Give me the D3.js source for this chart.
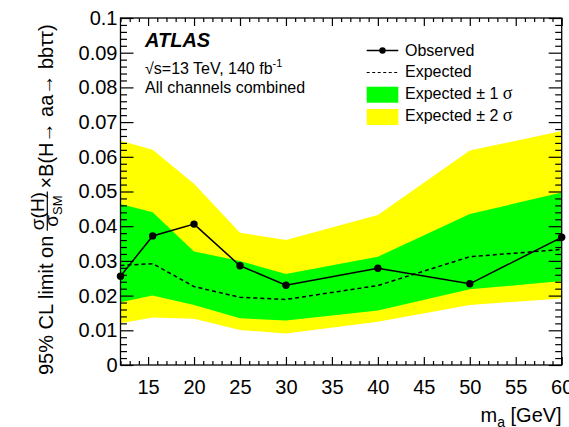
<!DOCTYPE html>
<html>
<head>
<meta charset="utf-8">
<script src="https://cdn.jsdelivr.net/npm/d3@7"></script>
<style>
  html, body { margin: 0; padding: 0; background: #fff; }
  svg { display: block; }
  text { font-family: "Liberation Sans", Arial, Helvetica, sans-serif; fill: #000; }
</style>
</head>
<body>
<script>
// Signal mass points m_a [GeV]
const massPoints = [12, 15.5, 20, 25, 30, 40, 50, 60];
// 95% CL upper limits on sigma(H)/sigma_SM x B(H -> aa -> bb tau tau)
const observed = [0.0256, 0.0372, 0.0406, 0.0286, 0.0230, 0.0279, 0.0234, 0.0368];
const expected = [0.0287, 0.0292, 0.0226, 0.0195, 0.0189, 0.0229, 0.0312, 0.0333];
const band1Lo  = [0.0181, 0.0200, 0.0173, 0.0135, 0.0128, 0.0157, 0.0218, 0.0242];
const band1Hi  = [0.0464, 0.0440, 0.0327, 0.0300, 0.0262, 0.0312, 0.0435, 0.0497];
const band2Lo  = [0.0120, 0.0137, 0.0133, 0.0101, 0.0091, 0.0125, 0.0173, 0.0192];
const band2Hi  = [0.0646, 0.0620, 0.0522, 0.0381, 0.0360, 0.0432, 0.0618, 0.0674];

// Axis ticks
const xTicks = [15, 20, 25, 30, 35, 40, 45, 50, 55, 60];
const yTicks = [0, 0.01, 0.02, 0.03, 0.04, 0.05, 0.06, 0.07, 0.08, 0.09, 0.1];
const yTickLabels = ["0", "0.01", "0.02", "0.03", "0.04", "0.05", "0.06", "0.07", "0.08", "0.09", "0.1"];

const W = 569, H = 427;
const frame = { left: 120.5, right: 561.7, top: 18, bottom: 365 };

const svg = d3.select("body").append("svg").attr("width", W).attr("height", H);

const x = d3.scaleLinear().domain([12, 60]).range([frame.left, frame.right]);
const y = d3.scaleLinear().domain([0, 0.1]).range([frame.bottom, frame.top]);

const pts = massPoints.map((m, i) => ({
  m, obs: observed[i], exp: expected[i],
  lo1: band1Lo[i], hi1: band1Hi[i], lo2: band2Lo[i], hi2: band2Hi[i]
}));

const plot = svg.append("g");

// +-2 sigma band
plot.append("path")
  .datum(pts)
  .attr("fill", "#ffff00")
  .attr("d", d3.area().x(d => x(d.m)).y0(d => y(d.lo2)).y1(d => y(d.hi2)));

// +-1 sigma band
plot.append("path")
  .datum(pts)
  .attr("fill", "#00ff00")
  .attr("d", d3.area().x(d => x(d.m)).y0(d => y(d.lo1)).y1(d => y(d.hi1)));

// Expected limit
plot.append("path")
  .datum(pts)
  .attr("fill", "none")
  .attr("stroke", "#000")
  .attr("stroke-width", 1.5)
  .attr("stroke-dasharray", "4,3")
  .attr("d", d3.line().x(d => x(d.m)).y(d => y(d.exp)));

// Observed limit
plot.append("path")
  .datum(pts)
  .attr("fill", "none")
  .attr("stroke", "#000")
  .attr("stroke-width", 1.5)
  .attr("d", d3.line().x(d => x(d.m)).y(d => y(d.obs)));

plot.selectAll("circle.obs")
  .data(pts)
  .join("circle")
  .attr("class", "obs")
  .attr("cx", d => x(d.m))
  .attr("cy", d => y(d.obs))
  .attr("r", 3.7)
  .attr("fill", "#000");

// Axes with inward-pointing ticks on all four sides
const xMinor = d3.range(12, 61, 1).filter(v => v % 5 !== 0);
const yMinor = d3.range(0, 0.1001, 0.002).filter((v, i) => i % 5 !== 0);

function styleAxis(g) {
  g.select(".domain").remove();
  g.selectAll(".tick line").attr("stroke", "#000").attr("stroke-width", 1.2);
  g.selectAll(".tick text").style("font-family", '"Liberation Sans", Arial, sans-serif').attr("fill", "#000");
}

// bottom
svg.append("g").attr("transform", `translate(0,${frame.bottom})`)
  .call(d3.axisBottom(x).tickValues(xTicks).tickFormat(d3.format("d")).tickSizeInner(-8).tickSizeOuter(0).tickPadding(15))
  .call(styleAxis)
  .call(g => g.selectAll(".tick text").attr("font-size", 20).attr("dy", "0.71em"));
svg.append("g").attr("transform", `translate(0,${frame.bottom})`)
  .call(d3.axisBottom(x).tickValues(xMinor).tickFormat("").tickSizeInner(-4).tickSizeOuter(0))
  .call(styleAxis);
// top
svg.append("g").attr("transform", `translate(0,${frame.top})`)
  .call(d3.axisTop(x).tickValues(xTicks).tickFormat("").tickSizeInner(-8).tickSizeOuter(0))
  .call(styleAxis);
svg.append("g").attr("transform", `translate(0,${frame.top})`)
  .call(d3.axisTop(x).tickValues(xMinor).tickFormat("").tickSizeInner(-4).tickSizeOuter(0))
  .call(styleAxis);
// left
svg.append("g").attr("transform", `translate(${frame.left},0)`)
  .call(d3.axisLeft(y).tickValues(yTicks).tickFormat((d, i) => yTickLabels[i]).tickSizeInner(-13).tickSizeOuter(0).tickPadding(3))
  .call(styleAxis)
  .call(g => g.selectAll(".tick text").attr("font-size", 20));
svg.append("g").attr("transform", `translate(${frame.left},0)`)
  .call(d3.axisLeft(y).tickValues(yMinor).tickFormat("").tickSizeInner(-6.5).tickSizeOuter(0))
  .call(styleAxis);
// right
svg.append("g").attr("transform", `translate(${frame.right},0)`)
  .call(d3.axisRight(y).tickValues(yTicks).tickFormat("").tickSizeInner(-13).tickSizeOuter(0))
  .call(styleAxis);
svg.append("g").attr("transform", `translate(${frame.right},0)`)
  .call(d3.axisRight(y).tickValues(yMinor).tickFormat("").tickSizeInner(-6.5).tickSizeOuter(0))
  .call(styleAxis);

// frame
svg.append("rect")
  .attr("x", frame.left).attr("y", frame.top)
  .attr("width", frame.right - frame.left).attr("height", frame.bottom - frame.top)
  .attr("fill", "none").attr("stroke", "#000").attr("stroke-width", 1.3);

// x-axis title
const xt = svg.append("text")
  .attr("x", frame.right).attr("y", 421.5)
  .attr("text-anchor", "end").attr("font-size", 20);
xt.append("tspan").text("m");
xt.append("tspan").attr("font-size", 14).attr("dy", 5).text("a");
xt.append("tspan").attr("dy", -5).text(" [GeV]");

// y-axis title, rotated, with a stacked fraction
const yt = svg.append("g").attr("transform", "translate(53.3,375) rotate(-90)");
const t1 = yt.append("text").attr("x", 0).attr("y", 0).attr("font-size", 20).text("95% CL limit on");
const L1 = t1.node().getComputedTextLength();
const fracStart = L1 + 5;
const num = yt.append("text").attr("y", -9).attr("font-size", 19).attr("text-anchor", "middle");
num.append("tspan").text("σ(H)");
const den = yt.append("text").attr("y", 5).attr("font-size", 19).attr("text-anchor", "middle");
den.append("tspan").text("σ");
den.append("tspan").attr("font-size", 13).attr("dy", 4).text("SM");
const fracW = Math.max(num.node().getComputedTextLength(), den.node().getComputedTextLength()) + 1;
const fracMid = fracStart + fracW / 2;
num.attr("x", fracMid);
den.attr("x", fracMid);
yt.append("line")
  .attr("x1", fracStart).attr("x2", fracStart + fracW)
  .attr("y1", -6).attr("y2", -6)
  .attr("stroke", "#000").attr("stroke-width", 1.2);
yt.append("text").attr("x", fracStart + fracW + 3).attr("y", 0).attr("font-size", 20)
  .text("×B(H→ aa→ bbττ)");

// ATLAS label block
svg.append("text").attr("x", 145).attr("y", 46.5)
  .attr("font-size", 20).attr("font-weight", "bold").attr("font-style", "italic").text("ATLAS");
const en = svg.append("text").attr("x", 145).attr("y", 73.5).attr("font-size", 16);
en.append("tspan").text("√s=13 TeV, 140 fb");
en.append("tspan").attr("font-size", 11).attr("dy", -7).text("-1");
svg.append("text").attr("x", 145).attr("y", 93).attr("font-size", 16).text("All channels combined");

// Legend
const legend = svg.append("g");
const lx0 = 366.7, lx1 = 398.3, tx = 405;
// Observed
legend.append("line").attr("x1", lx0).attr("x2", lx1).attr("y1", 50.5).attr("y2", 50.5)
  .attr("stroke", "#000").attr("stroke-width", 1.5);
legend.append("circle").attr("cx", (lx0 + lx1) / 2).attr("cy", 50.5).attr("r", 3.2).attr("fill", "#000");
legend.append("text").attr("x", tx).attr("y", 55.5).attr("font-size", 16).text("Observed");
// Expected
legend.append("line").attr("x1", lx0).attr("x2", lx1).attr("y1", 72.5).attr("y2", 72.5)
  .attr("stroke", "#000").attr("stroke-width", 1.2).attr("stroke-dasharray", "3,2.5");
legend.append("text").attr("x", tx).attr("y", 77).attr("font-size", 16).text("Expected");
// +-1 sigma
legend.append("rect").attr("x", lx0).attr("y", 86.7).attr("width", lx1 - lx0).attr("height", 16)
  .attr("fill", "#00ff00");
const s1 = legend.append("text").attr("x", tx).attr("y", 99).attr("font-size", 16);
s1.append("tspan").text("Expected ± 1 ");
s1.append("tspan").style("font-family", '"Liberation Serif", "Times New Roman", serif').attr("font-size", 18).text("σ");
// +-2 sigma
legend.append("rect").attr("x", lx0).attr("y", 109).attr("width", lx1 - lx0).attr("height", 16)
  .attr("fill", "#ffff00");
const s2 = legend.append("text").attr("x", tx).attr("y", 121).attr("font-size", 16);
s2.append("tspan").text("Expected ± 2 ");
s2.append("tspan").style("font-family", '"Liberation Serif", "Times New Roman", serif').attr("font-size", 18).text("σ");
</script>
</body>
</html>
